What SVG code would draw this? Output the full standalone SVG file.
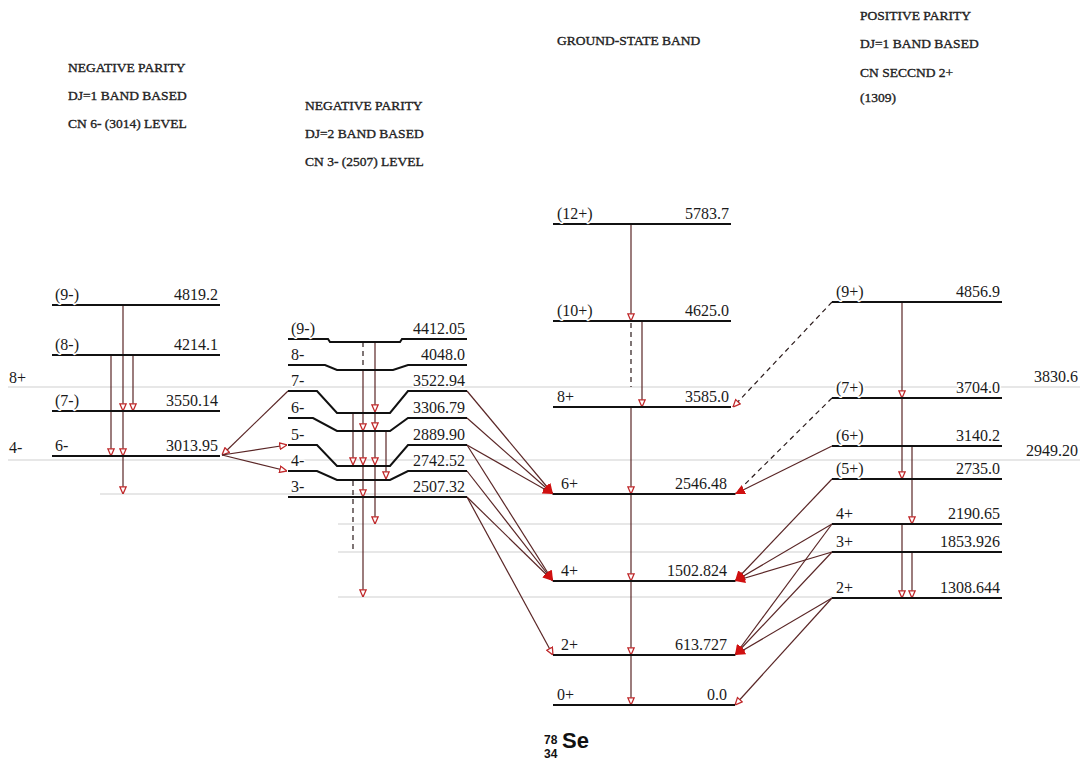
<svg xmlns="http://www.w3.org/2000/svg" width="1084" height="760" viewBox="0 0 1084 760">
<defs>
<style>
.lv{stroke:#111;stroke-width:2;fill:none}
.gr{stroke:#cfcfcf;stroke-width:1;fill:none}
.t{font-family:"Liberation Serif","Times New Roman",serif;font-size:16px;fill:#1a1a1a;stroke:#fff;stroke-width:3px;paint-order:stroke;stroke-linejoin:round}
.e{text-anchor:end}
.h{font-family:"Liberation Serif","Times New Roman",serif;font-size:13.5px;fill:#222;stroke:#222;stroke-width:0.35px}
.tr{stroke:#5a2626;stroke-width:1.2;fill:none}
.ds{stroke-dasharray:5,4}
.dk{stroke:#2a1a1a}
.o{marker-end:url(#ao)}
.f{marker-end:url(#af)}
</style>
<marker id="ao" viewBox="0 0 10 10" refX="10" refY="5" markerWidth="8" markerHeight="8" markerUnits="userSpaceOnUse" orient="auto">
<path d="M1,1 L10,5 L1,9 Z" fill="#fff" stroke="#c0282a" stroke-width="1.6"/>
</marker>
<marker id="af" viewBox="0 0 10 10" refX="10" refY="5" markerWidth="10" markerHeight="10" markerUnits="userSpaceOnUse" orient="auto">
<path d="M0,0 L10,5 L0,10 Z" fill="#d01010"/>
</marker>
</defs>
<rect width="1084" height="760" fill="#fff"/>

<g id="guides">
<line class="gr" x1="8" y1="387" x2="1080" y2="387"/>
<line class="gr" x1="8" y1="460" x2="1080" y2="460"/>
<line class="gr" x1="100" y1="494" x2="553" y2="494"/>
<line class="gr" x1="338" y1="524" x2="832" y2="524"/>
<line class="gr" x1="338" y1="552" x2="832" y2="552"/>
<line class="gr" x1="338" y1="597" x2="832" y2="597"/>
<text class="t" x="9" y="383">8+</text>
<text class="t" x="9" y="453">4-</text>
<text class="t e" x="1078" y="382">3830.6</text>
<text class="t e" x="1078" y="456">2949.20</text>
</g>

<g id="headers">
<text class="h" x="68" y="72">NEGATIVE PARITY</text>
<text class="h" x="68" y="100">DJ=1 BAND BASED</text>
<text class="h" x="68" y="128">CN 6- (3014) LEVEL</text>
<text class="h" x="305" y="110">NEGATIVE PARITY</text>
<text class="h" x="305" y="138">DJ=2 BAND BASED</text>
<text class="h" x="305" y="166">CN 3- (2507) LEVEL</text>
<text class="h" x="557" y="45">GROUND-STATE BAND</text>
<text class="h" x="860" y="20">POSITIVE PARITY</text>
<text class="h" x="860" y="48">DJ=1 BAND BASED</text>
<text class="h" x="860" y="77">CN SECCND 2+</text>
<text class="h" x="860" y="102">(1309)</text>
</g>

<g id="connectors">
<line class="tr o" x1="123" y1="305" x2="123" y2="411"/>
<line class="tr o" x1="123" y1="411" x2="123" y2="456"/>
<line class="tr o" x1="123" y1="456" x2="123" y2="494"/>
<line class="tr o" x1="111" y1="355" x2="111" y2="456"/>
<line class="tr o" x1="133" y1="355" x2="133" y2="411"/>
<line class="tr dk ds" x1="363" y1="342" x2="363" y2="368"/>
<line class="tr o" x1="375" y1="342" x2="375" y2="412"/>
<line class="tr o" x1="375" y1="412" x2="375" y2="430"/>
<line class="tr o" x1="375" y1="430" x2="375" y2="465"/>
<line class="tr o" x1="375" y1="465" x2="375" y2="524"/>
<line class="tr o" x1="363" y1="370" x2="363" y2="431"/>
<line class="tr o" x1="363" y1="431" x2="363" y2="465"/>
<line class="tr o" x1="363" y1="465" x2="363" y2="497"/>
<line class="tr o" x1="363" y1="497" x2="363" y2="597"/>
<line class="tr o" x1="353" y1="413" x2="353" y2="465"/>
<line class="tr dk ds" x1="353" y1="481" x2="353" y2="551"/>
<line class="tr o" x1="386" y1="431" x2="386" y2="479"/>
<line class="tr o" x1="288" y1="391" x2="222" y2="455"/>
<line class="tr o" x1="222" y1="455" x2="287" y2="445"/>
<line class="tr o" x1="222" y1="455" x2="287" y2="471"/>
<line class="tr f" x1="467" y1="391" x2="553" y2="494"/>
<line class="tr f" x1="467" y1="418" x2="553" y2="494"/>
<line class="tr f" x1="467" y1="445" x2="553" y2="494"/>
<line class="tr f" x1="467" y1="445" x2="553" y2="581"/>
<line class="tr f" x1="467" y1="471" x2="553" y2="581"/>
<line class="tr f" x1="467" y1="497" x2="553" y2="581"/>
<line class="tr o" x1="467" y1="497" x2="553" y2="655"/>
<line class="tr o" x1="631" y1="224" x2="631" y2="321"/>
<line class="tr dk ds" x1="631" y1="323" x2="631" y2="387"/>
<line class="tr o" x1="642" y1="321" x2="642" y2="407"/>
<line class="tr o" x1="631" y1="407" x2="631" y2="494"/>
<line class="tr o" x1="631" y1="494" x2="631" y2="581"/>
<line class="tr o" x1="631" y1="581" x2="631" y2="655"/>
<line class="tr o" x1="631" y1="655" x2="631" y2="705"/>
<line class="tr dk ds o" x1="832" y1="302" x2="733" y2="407"/>
<line class="tr dk ds" x1="832" y1="398" x2="735" y2="494"/>
<line class="tr f" x1="832" y1="446" x2="735" y2="494"/>
<line class="tr f" x1="832" y1="479" x2="735" y2="581"/>
<line class="tr f" x1="832" y1="524" x2="735" y2="581"/>
<line class="tr f" x1="832" y1="524" x2="735" y2="655"/>
<line class="tr f" x1="832" y1="552" x2="735" y2="581"/>
<line class="tr f" x1="832" y1="552" x2="735" y2="655"/>
<line class="tr f" x1="832" y1="598" x2="735" y2="655"/>
<line class="tr o" x1="832" y1="598" x2="735" y2="705"/>
<line class="tr o" x1="902" y1="302" x2="902" y2="398"/>
<line class="tr o" x1="902" y1="398" x2="902" y2="479"/>
<line class="tr o" x1="912" y1="446" x2="912" y2="524"/>
<line class="tr o" x1="902" y1="524" x2="902" y2="598"/>
<line class="tr o" x1="912" y1="552" x2="912" y2="598"/>
</g>

<g id="b1-9"><line class="lv" x1="52" y1="305" x2="220" y2="305"/><text class="t" x="55" y="300">(9-)</text><text class="t e" x="218" y="300">4819.2</text></g>
<g id="b1-8"><line class="lv" x1="52" y1="355" x2="220" y2="355"/><text class="t" x="55" y="350">(8-)</text><text class="t e" x="218" y="350">4214.1</text></g>
<g id="b1-7"><line class="lv" x1="52" y1="411" x2="220" y2="411"/><text class="t" x="55" y="406">(7-)</text><text class="t e" x="218" y="406">3550.14</text></g>
<g id="b1-6"><line class="lv" x1="52" y1="456" x2="220" y2="456"/><text class="t" x="55" y="451">6-</text><text class="t e" x="218" y="451">3013.95</text></g>

<g id="b2-9"><polyline class="lv" points="288,339 328,339 330,342 400,342 402,339 467,339"/><text class="t" x="291" y="334">(9-)</text><text class="t e" x="465" y="334">4412.05</text></g>
<g id="b2-8"><polyline class="lv" points="288,365 325,365 337,370 393,370 408,365 467,365"/><text class="t" x="291" y="360">8-</text><text class="t e" x="465" y="360">4048.0</text></g>
<g id="b2-7"><polyline class="lv" points="288,391 317,391 337,413 390,413 408,391 467,391"/><text class="t" x="291" y="386">7-</text><text class="t e" x="465" y="386">3522.94</text></g>
<g id="b2-6"><polyline class="lv" points="288,418 313,418 337,431 390,431 408,418 467,418"/><text class="t" x="291" y="413">6-</text><text class="t e" x="465" y="413">3306.79</text></g>
<g id="b2-5"><polyline class="lv" points="288,445 317,445 337,466 390,466 408,445 467,445"/><text class="t" x="291" y="440">5-</text><text class="t e" x="465" y="440">2889.90</text></g>
<g id="b2-4"><polyline class="lv" points="288,471 317,471 337,480 390,480 408,471 467,471"/><text class="t" x="291" y="466">4-</text><text class="t e" x="465" y="466">2742.52</text></g>
<g id="b2-3"><line class="lv" x1="288" y1="497" x2="467" y2="497"/><text class="t" x="291" y="492">3-</text><text class="t e" x="465" y="492">2507.32</text></g>

<g id="g-12"><line class="lv" x1="553" y1="224" x2="731" y2="224"/><text class="t" x="557" y="219">(12+)</text><text class="t e" x="729" y="219">5783.7</text></g>
<g id="g-10"><line class="lv" x1="553" y1="321" x2="731" y2="321"/><text class="t" x="557" y="316">(10+)</text><text class="t e" x="729" y="316">4625.0</text></g>
<g id="g-8"><line class="lv" x1="553" y1="407" x2="731" y2="407"/><text class="t" x="557" y="402">8+</text><text class="t e" x="729" y="402">3585.0</text></g>
<g id="g-6"><line class="lv" x1="553" y1="494" x2="735" y2="494"/><text class="t" x="561" y="489">6+</text><text class="t e" x="727" y="489">2546.48</text></g>
<g id="g-4"><line class="lv" x1="553" y1="581" x2="735" y2="581"/><text class="t" x="561" y="576">4+</text><text class="t e" x="727" y="576">1502.824</text></g>
<g id="g-2"><line class="lv" x1="553" y1="655" x2="735" y2="655"/><text class="t" x="561" y="650">2+</text><text class="t e" x="727" y="650">613.727</text></g>
<g id="g-0"><line class="lv" x1="553" y1="705" x2="735" y2="705"/><text class="t" x="557" y="700">0+</text><text class="t e" x="727" y="700">0.0</text></g>

<g id="r-9"><line class="lv" x1="832" y1="302" x2="1002" y2="302"/><text class="t" x="836" y="297">(9+)</text><text class="t e" x="1000" y="297">4856.9</text></g>
<g id="r-7"><line class="lv" x1="832" y1="398" x2="1002" y2="398"/><text class="t" x="836" y="393">(7+)</text><text class="t e" x="1000" y="393">3704.0</text></g>
<g id="r-6"><line class="lv" x1="832" y1="446" x2="1002" y2="446"/><text class="t" x="836" y="441">(6+)</text><text class="t e" x="1000" y="441">3140.2</text></g>
<g id="r-5"><line class="lv" x1="832" y1="479" x2="1002" y2="479"/><text class="t" x="836" y="474">(5+)</text><text class="t e" x="1000" y="474">2735.0</text></g>
<g id="r-4"><line class="lv" x1="832" y1="524" x2="1002" y2="524"/><text class="t" x="836" y="519">4+</text><text class="t e" x="1000" y="519">2190.65</text></g>
<g id="r-3"><line class="lv" x1="832" y1="552" x2="1002" y2="552"/><text class="t" x="836" y="547">3+</text><text class="t e" x="1000" y="547">1853.926</text></g>
<g id="r-2"><line class="lv" x1="832" y1="598" x2="1002" y2="598"/><text class="t" x="836" y="593">2+</text><text class="t e" x="1000" y="593">1308.644</text></g>

<g id="nucleus" font-family="'Liberation Sans',Arial,sans-serif" font-weight="bold" fill="#111">
<text x="544" y="744" font-size="12">78</text>
<text x="544" y="758" font-size="12">34</text>
<text x="562" y="748" font-size="22">Se</text>
</g>
</svg>
